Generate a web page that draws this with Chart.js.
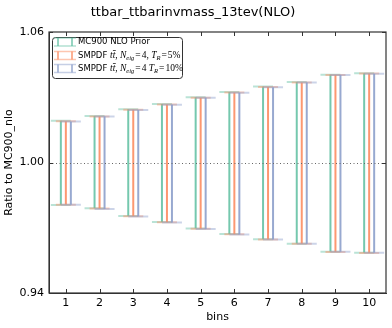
<!DOCTYPE html>
<html><head><meta charset="utf-8">
<script src="https://cdn.jsdelivr.net/npm/chart.js@4/dist/chart.umd.min.js"></script>
<style>html,body{margin:0;padding:0;background:#fff}#wrap{width:392px;height:328px}</style>
</head><body><div id="wrap"><canvas id="c" width="392" height="328"></canvas></div>
<script>
const bins = [1, 2, 3, 4, 5, 6, 7, 8, 9, 10];
const priorUp   = [1.0192, 1.0214, 1.0245, 1.0269, 1.0300, 1.0324, 1.0349, 1.0370, 1.0404, 1.0410];
const priorDown = [0.9805, 0.9790, 0.9754, 0.9726, 0.9697, 0.9671, 0.9647, 0.9627, 0.9590, 0.9585];
const n5Up      = [1.0190, 1.0212, 1.0243, 1.0267, 1.0298, 1.0322, 1.0347, 1.0368, 1.0402, 1.0409];
const n5Down    = [0.9806, 0.9788, 0.9753, 0.9725, 0.9695, 0.9670, 0.9646, 0.9626, 0.9589, 0.9584];
const n10Up     = [1.0188, 1.0212, 1.0241, 1.0266, 1.0298, 1.0321, 1.0346, 1.0368, 1.0402, 1.0408];
const n10Down   = [0.9806, 0.9786, 0.9752, 0.9724, 0.9694, 0.9669, 0.9646, 0.9626, 0.9590, 0.9585];
const yTickValues = [0.94, 1.00, 1.06];
const refLine = 1.00;
const titleText = 'ttbar_ttbarinvmass_13tev(NLO)';
const yTitle = 'Ratio to MC900_nlo';
const xTitle = 'bins';

const series = [
  {label: 'MC900 NLO Prior', up: priorUp, down: priorDown, color: '102,194,165', off: -5},
  {label: 'SMPDF tt, N_eig=4, T_R=5%', up: n5Up, down: n5Down, color: '252,141,98', off: 0},
  {label: 'SMPDF tt, N_eig=4 T_R=10%', up: n10Up, down: n10Down, color: '141,160,203', off: 5}
];

const datasets = series.map(s => ({
  label: s.label,
  data: bins.map((b, i) => ({x: b, y: s.up[i], lo: s.down[i]})),
  pointRadius: 0, showLine: false,
  borderColor: 'rgb(' + s.color + ')', backgroundColor: 'rgb(' + s.color + ')'
}));

const errPlugin = {
  id: 'err',
  afterDatasetsDraw(chart) {
    const ctx = chart.ctx, xs = chart.scales.x, ys = chart.scales.y, a = chart.chartArea;
    ctx.save();
    series.forEach((s, si) => {
      const ds = chart.data.datasets[si];
      ds.data.forEach(p => {
        const x = xs.getPixelForValue(p.x) + s.off;
        const yt = ys.getPixelForValue(p.y), yb = ys.getPixelForValue(p.lo);
        ctx.lineWidth = 2;
        ctx.strokeStyle = 'rgba(' + s.color + ',0.9)';
        ctx.beginPath(); ctx.moveTo(x, yt); ctx.lineTo(x, yb); ctx.stroke();
        ctx.strokeStyle = 'rgba(' + s.color + ',0.45)';
        ctx.beginPath();
        ctx.moveTo(x - 10, yt); ctx.lineTo(x + 10, yt);
        ctx.moveTo(x - 10, yb); ctx.lineTo(x + 10, yb);
        ctx.stroke();
      });
    });
    const yr = ys.getPixelForValue(refLine);
    ctx.strokeStyle = '#666'; ctx.lineWidth = 1; ctx.setLineDash([1, 2.5]);
    ctx.beginPath(); ctx.moveTo(a.left, Math.round(yr) + 0.5); ctx.lineTo(a.right, Math.round(yr) + 0.5); ctx.stroke();
    ctx.setLineDash([]);
    ctx.strokeStyle = '#333'; ctx.lineWidth = 1.2;
    ctx.strokeRect(a.left, a.top, a.right - a.left, a.bottom - a.top);
    ctx.beginPath();
    xs.ticks.forEach(t => { const x = Math.round(xs.getPixelForValue(t.value)) + 0.5; ctx.moveTo(x, a.bottom); ctx.lineTo(x, a.bottom - 4); ctx.moveTo(x, a.top); ctx.lineTo(x, a.top + 4); });
    ys.ticks.forEach(t => { const y = Math.round(ys.getPixelForValue(t.value)) + 0.5; ctx.moveTo(a.left, y); ctx.lineTo(a.left + 4, y); ctx.moveTo(a.right, y); ctx.lineTo(a.right - 4, y); });
    ctx.lineWidth = 1; ctx.stroke();
    // legend
    const lx = 52, ly = 37, lw = 130, lh = 41;
    ctx.fillStyle = 'rgba(255,255,255,0.9)';
    ctx.strokeStyle = '#333'; ctx.lineWidth = 1;
    ctx.beginPath();
    if (ctx.roundRect) ctx.roundRect(lx + 0.5, ly + 0.5, lw, lh, 3); else ctx.rect(lx + 0.5, ly + 0.5, lw, lh);
    ctx.fill(); ctx.stroke();
    const rows = [42, 55.5, 68.5];
    series.forEach((s, i) => {
      const cy = rows[i];
      ctx.lineWidth = 1.5;
      ctx.strokeStyle = 'rgba(' + s.color + ',0.5)';
      ctx.beginPath();
      ctx.moveTo(54, cy - 4); ctx.lineTo(76, cy - 4);
      ctx.moveTo(54, cy + 4); ctx.lineTo(76, cy + 4);
      ctx.stroke();
      ctx.strokeStyle = 'rgba(' + s.color + ',0.9)';
      ctx.beginPath();
      ctx.moveTo(58, cy - 4); ctx.lineTo(58, cy + 4);
      ctx.moveTo(72, cy - 4); ctx.lineTo(72, cy + 4);
      ctx.stroke();
    });
    ctx.fillStyle = '#000'; ctx.textBaseline = 'middle'; ctx.textAlign = 'left';
    const sans = '8.5px "DejaVu Sans"', it = 'italic 9.5px "Liberation Serif"', sub = 'italic 6.5px "Liberation Serif"', rm = '9.5px "Liberation Serif"';
    function piece(txt, font, x, y) { ctx.font = font; ctx.fillText(txt, x, y); return x + ctx.measureText(txt).width; }
    piece('MC900 NLO Prior', sans, 78, rows[0]);
    function smRow(y, tr, comma) {
      let x = 78;
      x = piece('SMPDF ', sans, x, y);
      const tx = x;
      x = piece('tt', it, x, y);
      ctx.font = it;
      const w1 = ctx.measureText('t').width;
      ctx.lineWidth = 0.7; ctx.strokeStyle = '#000';
      ctx.beginPath(); ctx.moveTo(tx + w1 + 0.3, y - 5); ctx.lineTo(x + 0.5, y - 5); ctx.stroke();
      x = piece(', ', rm, x, y);
      x = piece('N', it, x, y);
      x = piece('eig', sub, x, y + 2.5);
      x = piece('=', rm, x + 1, y) + 1;
      x = piece(comma ? '4, ' : '4 ', rm, x, y);
      x = piece('T', it, x, y);
      x = piece('R', sub, x, y + 2.5);
      x = piece('=', rm, x + 1, y) + 1;
      piece(tr, rm, x, y);
    }
    smRow(rows[1], '5%', true);
    smRow(rows[2], '10%', false);
    ctx.restore();
  }
};

new Chart(document.getElementById('c'), {
  type: 'scatter',
  data: {datasets},
  plugins: [errPlugin],
  options: {
    responsive: false, animation: false, devicePixelRatio: 1,
    layout: {padding: {left: 0, right: 6, top: 0, bottom: 0}},
    plugins: {
      legend: {display: false}, tooltip: {enabled: false},
      title: {display: true, text: titleText, color: '#000', font: {family: 'DejaVu Sans', size: 13, weight: 'normal'}, padding: {top: 5, bottom: 11.4}}
    },
    scales: {
      x: {
        type: 'linear', min: 0.5, max: 10.5,
        afterBuildTicks: s => { s.ticks = bins.map(v => ({value: v})); },
        afterFit: s => { s.height = 35; },
        grid: {display: false, drawTicks: false},
        border: {display: true, color: '#333'},
        ticks: {color: '#000', padding: 4, font: {family: 'DejaVu Sans', size: 11}, callback: v => String(v)},
        title: {display: true, text: xTitle, color: '#000', font: {family: 'DejaVu Sans', size: 11}, padding: {top: 2, bottom: 4}}
      },
      y: {
        min: 0.94, max: 1.06,
        afterBuildTicks: s => { s.ticks = yTickValues.map(v => ({value: v})); },
        afterFit: s => { s.width = 49; },
        grid: {display: false, drawTicks: false},
        border: {display: true, color: '#333'},
        ticks: {color: '#000', padding: 5, font: {family: 'DejaVu Sans', size: 11}, callback: v => Number(v).toFixed(2)},
        title: {display: true, text: yTitle, color: '#000', font: {family: 'DejaVu Sans', size: 11}, padding: {top: 3, bottom: 4}}
      }
    }
  }
});
</script></body></html>
